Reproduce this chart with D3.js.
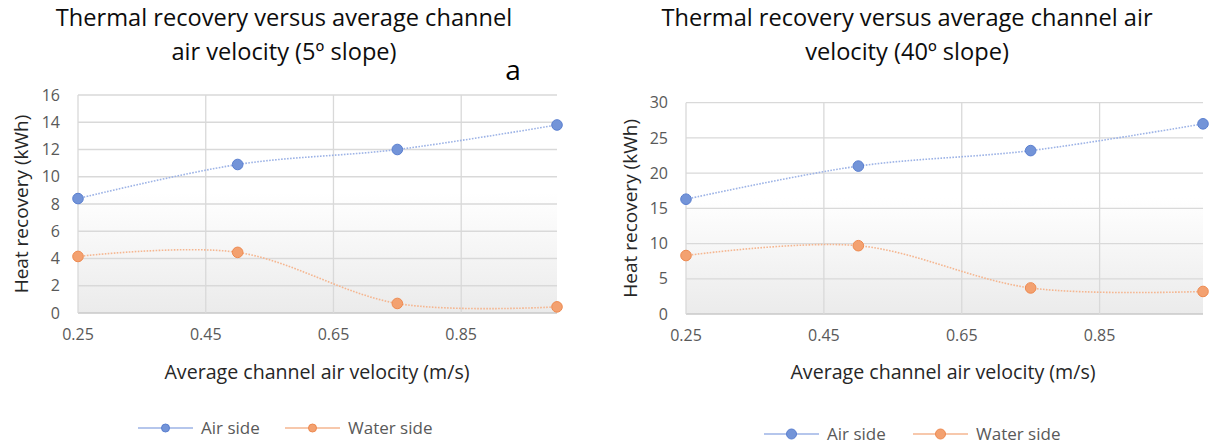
<!DOCTYPE html>
<html lang="en">
  <head>
    <meta charset="UTF-8">
    <script src="https://d3js.org/d3.v7.min.js"></script>
    <script>
    if (!window.d3) document.write('<script src="https://cdn.jsdelivr.net/npm/d3@7"><\/script>');
    </script>
    <script>
    if (!window.d3) document.write('<script src="https://unpkg.com/d3@7/dist/d3.min.js"><\/script>');
    </script>
    <title>Thermal recovery</title>
    <style>
    body { margin: 0; background: #fff; }
    text { font-family: "Open Sans", Lato, sans-serif; }
    </style>
  </head>
  <body>
    <div id="chart"></div>
    <script>

// Data
const velocity = [0.25, 0.5, 0.75, 1.0];
const xTicks   = [0.25, 0.45, 0.65, 0.85];

const air5   = [8.4, 10.9, 12.0, 13.8];
const water5 = [4.15, 4.45, 0.7, 0.45];
const yTicks5 = [0, 2, 4, 6, 8, 10, 12, 14, 16];

const air40   = [16.3, 21.0, 23.2, 27.0];
const water40 = [8.3, 9.7, 3.7, 3.2];
const yTicks40 = [0, 5, 10, 15, 20, 25, 30];

const seriesNames = ["Air side", "Water side"];

const width  = 1212;
const height = 444;

const colours = {
  air:   { line: "#9db3e6", fill: "#7394d8", stroke: "#5a7fd0" },
  water: { line: "#f5b690", fill: "#f3a170", stroke: "#ee8a50" }
};

const svg = d3
  .select("#chart")
  .append("svg")
  .attr("width",  width)
  .attr("height", height)
  .attr("viewBox", [0, 0, width, height]);

// plot area background: white in the upper half, fading to light grey
const grad = svg.append("defs")
  .append("linearGradient")
  .attr("id", "plotbg")
  .attr("x1", 0).attr("y1", 0).attr("x2", 0).attr("y2", 1);
grad.append("stop").attr("offset", "0%").attr("stop-color", "#ffffff");
grad.append("stop").attr("offset", "45%").attr("stop-color", "#ffffff");
grad.append("stop").attr("offset", "100%").attr("stop-color", "#ebebeb");

function panel(opt) {
  const x = d3.scaleLinear().domain([0.25, 1.0]).range([opt.left, opt.right]);
  const y = d3.scaleLinear().domain([0, opt.yMax]).range([opt.bottom, opt.top]);

  const g = svg.append("g");

  g.append("rect")
    .attr("x", opt.left)
    .attr("y", opt.top)
    .attr("width", opt.right - opt.left)
    .attr("height", opt.bottom - opt.top)
    .attr("fill", "url(#plotbg)");

  // horizontal gridlines
  g.append("g")
    .selectAll("line")
    .data(opt.yTicks)
    .join("line")
      .attr("x1", opt.left)
      .attr("x2", opt.right)
      .attr("y1", d => y(d))
      .attr("y2", d => y(d))
      .attr("stroke", d => d === 0 ? "#c8c8c8" : "#d9d9d9")
      .attr("stroke-width", 1.3);

  // vertical gridlines
  g.append("g")
    .selectAll("line")
    .data(xTicks)
    .join("line")
      .attr("x1", d => x(d))
      .attr("x2", d => x(d))
      .attr("y1", opt.top)
      .attr("y2", opt.bottom)
      .attr("stroke", "#d9d9d9")
      .attr("stroke-width", 1.3);

  // tick labels
  g.append("g")
    .selectAll("text")
    .data(opt.yTicks)
    .join("text")
      .attr("x", opt.left - 18)
      .attr("y", d => y(d))
      .attr("dy", "0.35em")
      .attr("text-anchor", "end")
      .attr("font-size", 16)
      .attr("fill", "#595959")
      .text(d => d);

  g.append("g")
    .selectAll("text")
    .data(xTicks)
    .join("text")
      .attr("x", d => x(d))
      .attr("y", opt.bottom + 27)
      .attr("text-anchor", "middle")
      .attr("font-size", 16)
      .attr("fill", "#595959")
      .text(d => d3.format(".2f")(d));

  // axis titles
  g.append("text")
    .attr("transform", `translate(${opt.yTitleX},${(opt.top + opt.bottom) / 2}) rotate(-90)`)
    .attr("dy", "0.35em")
    .attr("text-anchor", "middle")
    .attr("font-size", 19)
    .attr("fill", "#262626")
    .text("Heat recovery (kWh)");

  g.append("text")
    .attr("x", opt.xTitleX)
    .attr("y", 379)
    .attr("text-anchor", "middle")
    .attr("font-size", 19.6)
    .attr("fill", "#262626")
    .text("Average channel air velocity (m/s)");

  // chart title, two lines
  g.append("text")
    .attr("x", opt.titleX)
    .attr("y", 26)
    .attr("text-anchor", "middle")
    .attr("font-size", 23.6)
    .attr("fill", "#0d0d0d")
    .selectAll("tspan")
    .data(opt.title)
    .join("tspan")
      .attr("x", opt.titleX)
      .attr("dy", (d, i) => i ? 34 : 0)
      .text(d => d);

  // smooth dotted lines + markers
  const line = d3.line()
    .x((d, i) => x(velocity[i]))
    .y(d => y(d))
    .curve(d3.curveCardinal.tension(0));

  [["air", opt.air], ["water", opt.water]].forEach(([key, vals]) => {
    const c = colours[key];
    g.append("path")
      .datum(vals)
      .attr("d", line)
      .attr("fill", "none")
      .attr("stroke", c.line)
      .attr("stroke-width", 1.6)
      .attr("stroke-dasharray", "1.6,1.4");

    g.append("g")
      .selectAll("circle")
      .data(vals)
      .join("circle")
        .attr("cx", (d, i) => x(velocity[i]))
        .attr("cy", d => y(d))
        .attr("r", 5.3)
        .attr("fill", c.fill)
        .attr("stroke", c.stroke)
        .attr("stroke-width", 1);
  });

  // legend
  const lg = g.append("g").attr("transform", `translate(${opt.legendX},${opt.legendY})`);
  const items = lg.selectAll("g")
    .data(["air", "water"])
    .join("g")
      .attr("transform", (d, i) => `translate(${i * opt.legendStep},0)`);
  items.append("line")
    .attr("x1", 0).attr("x2", 55)
    .attr("stroke", d => colours[d].line)
    .attr("stroke-width", 1.5);
  items.append("circle")
    .attr("cx", 27.5)
    .attr("r", opt.legendR)
    .attr("fill", d => colours[d].fill)
    .attr("stroke", d => colours[d].stroke);
  items.append("text")
    .attr("x", 63)
    .attr("dy", "0.35em")
    .attr("font-size", 17)
    .attr("fill", "#595959")
    .text((d, i) => seriesNames[i]);
}

panel({
  left: 78, right: 557, top: 95, bottom: 313,
  yMax: 16, yTicks: yTicks5,
  air: air5, water: water5,
  yTitleX: 21, xTitleX: 317, titleX: 284,
  title: ["Thermal recovery versus average channel", "air velocity (5º slope)"],
  legendX: 138, legendY: 428, legendStep: 147, legendR: 4
});

panel({
  left: 686, right: 1203, top: 102.7, bottom: 314,
  yMax: 30, yTicks: yTicks40,
  air: air40, water: water40,
  yTitleX: 630, xTitleX: 943, titleX: 907,
  title: ["Thermal recovery versus average channel air", "velocity (40º slope)"],
  legendX: 764, legendY: 434, legendStep: 149, legendR: 5
});

// panel letter
svg.append("text")
  .attr("x", 513)
  .attr("y", 80)
  .attr("text-anchor", "middle")
  .attr("font-size", 28)
  .attr("fill", "#000")
  .text("a");

    </script>
  </body>
</html>
